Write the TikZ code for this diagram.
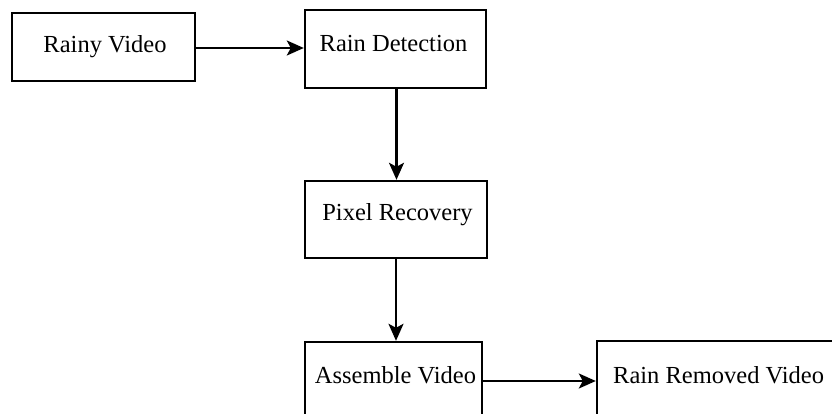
\documentclass[tikz,border=0pt]{standalone}
\usepackage{fontspec}
\setmainfont{Liberation Serif}
\usetikzlibrary{arrows.meta}
\begin{document}
\begin{tikzpicture}[x=1pt,y=-1pt,
  box/.style={draw=black, line width=2.4pt, inner sep=0pt},
  txt/.style={anchor=base, inner sep=0pt, font=\fontsize{24.5}{28}\selectfont, text=black},
  arr/.style={draw=black, line width=2.2pt, -{Stealth[length=17pt,width=15pt,inset=4pt]}}]
\useasboundingbox (0,0) rectangle (832,414);
\fill[white] (-20,-20) rectangle (860,440);
% boxes
\node[box, minimum width=183pt, minimum height=68pt] (rainy) at (103.5,47) {};
\node[box, minimum width=181pt, minimum height=78pt] (det) at (395.5,49) {};
\node[box, minimum width=182pt, minimum height=77pt] (pix) at (396,219.5) {};
\node[box, minimum width=177pt, minimum height=78pt] (asm) at (393.5,381) {};
\node[box, minimum width=300pt, minimum height=78pt] (rem) at (747,380) {};
% texts
\node[txt] (trainy) at (105,53) {Rainy Video};
\node[txt] (tdet) at (393.5,52) {Rain Detection};
\node[txt] (tpix) at (397.5,220) {Pixel Recovery};
\node[txt] (tasm) at (395.5,383) {Assemble Video};
\node[txt, anchor=base west] (trem) at (613,383) {Rain Removed Video};
% arrows
\draw[arr] ([yshift=-1pt]rainy.east) -- ([yshift=-1pt]rainy.east -| det.west);
\draw[arr] ([xshift=1pt]det.south) -- ([xshift=1pt]det.south |- pix.north);
\draw[arr] (pix.south) -- (pix.south |- asm.north);
\draw[arr] (asm.east) -- (asm.east -| rem.west);
\end{tikzpicture}
\end{document}
